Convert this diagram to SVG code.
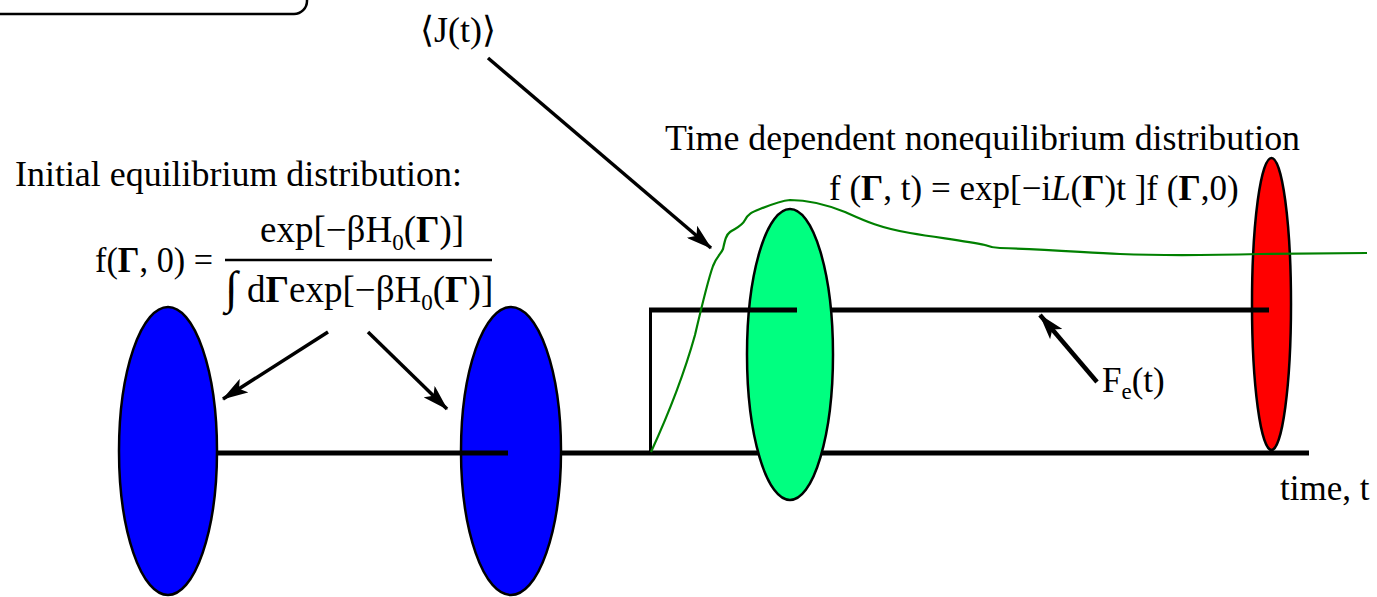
<svg xmlns="http://www.w3.org/2000/svg" width="1377" height="597" viewBox="0 0 1377 597">
<style>
.t{font-family:"Liberation Serif","Times New Roman",serif;font-size:35px;fill:#000}
.b{font-weight:bold}
.sub{font-size:23px}
.ax{stroke:#000;stroke-width:5;fill:none}
.ell{stroke:#000;stroke-width:2.5}
.arr{stroke:#000;stroke-width:3.5;fill:none}
</style>
<defs>
<marker id="ah" viewBox="0 0 26 16" refX="25" refY="8" markerWidth="26" markerHeight="16" markerUnits="userSpaceOnUse" orient="auto">
<path d="M0,0 L26,8 L0,16 L6,8 z" fill="#000"/>
</marker>
</defs>
<rect x="-20" y="-40" width="327" height="54" rx="13" fill="none" stroke="#000" stroke-width="2.5"/>

<g id="eq-blue-1"><ellipse class="ell" cx="168" cy="451" rx="49" ry="144" fill="#0000ff"/></g>
<g id="eq-blue-2"><ellipse class="ell" cx="511" cy="451" rx="50" ry="144" fill="#0000ff"/></g>
<g id="axis-lines-back">
<line class="ax" x1="217" y1="453" x2="508" y2="453"/>
<line class="ax" x1="561" y1="453" x2="1309" y2="453"/>
<line x1="650.5" y1="310" x2="650.5" y2="453" stroke="#000" stroke-width="3"/>
</g>
<g id="neq-red"><ellipse class="ell" cx="1271.5" cy="304" rx="19.5" ry="146" fill="#ff0000"/></g>
<g id="field-line-right"><line class="ax" x1="800" y1="310" x2="1269" y2="310"/></g>
<g id="neq-green"><ellipse class="ell" cx="790" cy="354.5" rx="43" ry="145.5" fill="#00ff80"/></g>
<g id="field-line-left"><line class="ax" x1="649" y1="310" x2="797" y2="310"/></g>
<g id="response-curve">
<path d="M651,452 C668,415 683,378 695,335 C702,305 708,280 713,266 C717,256 721,254 723,249 C725,240 726,235 730,232 C736,228 742,226 745,220 C748,214 752,212 760,209 C770,205 780,201 790,200 C805,200 825,204 845,212 C865,221 880,228 910,233 C940,238 965,241 985,245 C990,247 992,248 1000,248 C1040,249 1080,252 1120,254 C1170,256 1220,255 1260,254 L1367,253" fill="none" stroke="#008000" stroke-width="2.2"/>
</g>

<g id="connectors">
<line class="arr" x1="488" y1="58" x2="711" y2="248" marker-end="url(#ah)"/>
<line class="arr" x1="328" y1="332" x2="223" y2="399" marker-end="url(#ah)"/>
<line class="arr" x1="368" y1="332" x2="447" y2="409" marker-end="url(#ah)"/>
<line x1="1097" y1="382" x2="1040" y2="315" stroke="#000" stroke-width="4.5" marker-end="url(#ah)"/>
</g>

<g id="label-initial">
<text class="t" x="15" y="186" textLength="447" lengthAdjust="spacingAndGlyphs">Initial equilibrium distribution:</text>
<text class="t" x="95" y="272" textLength="118" lengthAdjust="spacingAndGlyphs">f(<tspan class="b">Γ</tspan>, 0) =</text>
<text class="t" x="260" y="242" style="font-size:37px">exp[−βH<tspan class="sub" dy="8">0</tspan><tspan dy="-8">(</tspan><tspan class="b">Γ</tspan>)]</text>
<line x1="225" y1="260" x2="492" y2="260" stroke="#000" stroke-width="2.5"/>
<text class="t" x="225" y="303" style="font-size:46px">∫</text>
<text class="t" x="247" y="302" style="font-size:37px">d<tspan class="b">Γ</tspan>exp[−βH<tspan class="sub" dy="8">0</tspan><tspan dy="-8">(</tspan><tspan class="b">Γ</tspan>)]</text>
</g>
<g id="label-J"><text class="t" x="420" y="42" style="font-size:36px">⟨J(t)⟩</text></g>
<g id="label-noneq">
<text class="t" x="665" y="150" textLength="635" lengthAdjust="spacingAndGlyphs">Time dependent nonequilibrium distribution</text>
<text class="t" x="829" y="200">f (<tspan class="b">Γ</tspan>, t) = exp[−i<tspan font-style="italic">L</tspan>(<tspan class="b">Γ</tspan>)t ]f (<tspan class="b">Γ</tspan>,0)</text>
</g>
<g id="label-Fe"><text class="t" x="1102" y="392">F<tspan class="sub" dy="7">e</tspan><tspan dy="-7">(t)</tspan></text></g>
<g id="label-time"><text class="t" x="1280" y="500">time, t</text></g>
</svg>
